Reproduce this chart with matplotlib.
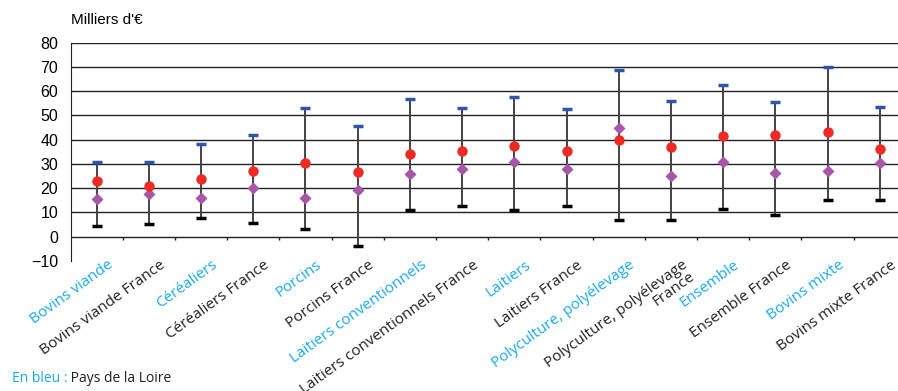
import numpy as np
import matplotlib.pyplot as plt

# Catégories (bleu = Pays de la Loire, noir = France)
categories = ['Bovins viande', 'Bovins viande France', 'Céréaliers', 'Céréaliers France',
              'Porcins', 'Porcins France', 'Laitiers conventionnels',
              'Laitiers conventionnels France', 'Laitiers', 'Laitiers France',
              'Polyculture, polyélevage', 'Polyculture, polyélevage\nFrance',
              'Ensemble', 'Ensemble France', 'Bovins mixte', 'Bovins mixte France']
regional = [True, False] * 8

# Valeurs en milliers d'euros
haut = [30.9, 30.7, 38.4, 41.8, 52.9, 45.7, 56.6, 53.2, 57.5, 52.8, 68.7, 55.9, 62.4, 55.7, 69.9, 53.6]
bas = [4.5, 5.1, 7.7, 5.8, 3.2, -3.7, 11.0, 12.6, 11.0, 12.5, 7.0, 7.0, 11.4, 9.0, 15.1, 15.1]
moyenne = [23.0, 20.8, 23.9, 26.9, 30.3, 26.6, 34.0, 35.5, 37.4, 35.5, 40.0, 36.9, 41.4, 42.0, 43.1, 36.1]
mediane = [15.6, 17.7, 15.9, 19.9, 15.8, 19.2, 25.8, 28.0, 31.0, 27.8, 45.0, 25.2, 31.0, 26.2, 27.3, 30.2]

bleu = '#1BA9EC'
x = np.arange(len(categories))

fig = plt.figure(figsize=(8.98, 3.91), dpi=100)
ax = fig.add_axes([0.0786, 0.3325, 0.9214, 0.5583])

# Grille et axe horizontal à 0
for v in range(0, 90, 10):
    ax.axhline(v, color='#222222', lw=1.0, zorder=1)
ax.vlines(x[:-1] + 0.5, -1.2, 0, color='#222222', lw=1.0, zorder=1)

# Barres min/max
ax.vlines(x, bas, haut, color='#444444', lw=1.4, zorder=2)
ax.plot(x, haut, linestyle='none', marker='_', ms=7, mew=2.5, color='#2E55A8', zorder=3)
ax.plot(x, bas, linestyle='none', marker='_', ms=7, mew=2.5, color='black', zorder=3)

# Médiane et moyenne
ax.plot(x, mediane, linestyle='none', marker='D', ms=6.5, color='#A857A6', mec='none', zorder=4)
ax.plot(x, moyenne, linestyle='none', marker='o', ms=7.5, color='#EE2A24', mec='none', zorder=5)

ax.set_xlim(-0.5, 15.35)
ax.set_ylim(-10, 80)
ax.set_yticks(range(-10, 90, 10))
ax.tick_params(axis='y', length=0, pad=9, labelsize=11.5)
for lab in ax.get_yticklabels():
    lab.set_fontfamily('Liberation Sans')
ax.set_xticks([])
for s in ['top', 'right', 'bottom']:
    ax.spines[s].set_visible(False)
ax.spines['left'].set_color('#222222')

# Étiquettes des catégories
for xi, lab, reg in zip(x, categories, regional):
    ax.text(xi + 0.2, -8.6, lab, rotation=36, rotation_mode='anchor', ha='right', va='top',
            fontsize=11, family='Open Sans', color=bleu if reg else '#222222', linespacing=0.85)

ax.text(0.0, 1.07, "Milliers d'€", transform=ax.transAxes, fontsize=11,
        family='Liberation Sans', va='bottom')

t1 = fig.text(0.013, 0.012, 'En bleu :', color=bleu, fontsize=10, family='Open Sans',
              va='bottom')
ax.annotate(' Pays de la Loire', xy=(1, 0), xycoords=t1, va='bottom', fontsize=10,
            family='Open Sans', color='#222222', annotation_clip=False)

plt.savefig('out.png', dpi=100)
